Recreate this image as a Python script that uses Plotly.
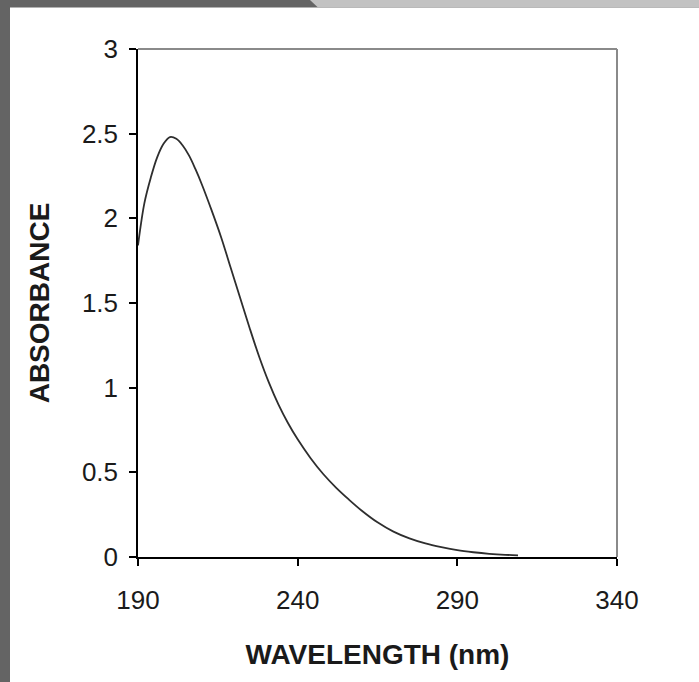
import plotly.graph_objects as go

wavelength = [190, 192, 194, 196, 198, 200, 202, 204, 206, 208, 210, 213, 216, 219,
              222, 225, 228, 231, 234, 237, 240, 244, 248, 252, 256, 260, 265, 270,
              275, 280, 285, 290, 295, 300, 305, 309]
absorbance = [1.84, 2.09, 2.24, 2.36, 2.44, 2.48, 2.47, 2.43, 2.37, 2.29, 2.20, 2.05,
              1.89, 1.71, 1.53, 1.35, 1.18, 1.03, 0.90, 0.79, 0.695, 0.585, 0.49, 0.41,
              0.34, 0.275, 0.205, 0.15, 0.11, 0.08, 0.058, 0.04, 0.028, 0.019, 0.013, 0.01]
x_ticks = [190, 240, 290, 340]
y_ticks = [0, 0.5, 1, 1.5, 2, 2.5, 3]

W, H = 699, 682
L, R, T, B = 138, 82, 49, 125
pw, ph = W - L - R, H - T - B

def px(x):
    return (x - L) / pw

def py(y):
    return (H - B - y) / ph

fig = go.Figure()
fig.add_trace(go.Scatter(x=wavelength, y=absorbance, mode="lines",
                         line=dict(color="#2e2e2e", width=1.8), line_shape="spline",
                         showlegend=False))

font_tick = dict(family="Liberation Sans, Arial, sans-serif", size=26, color="#1a1a1a")
font_title = dict(family="Liberation Sans, Arial, sans-serif", size=28, color="#1a1a1a")

fig.update_layout(
    width=W, height=H,
    margin=dict(l=L, r=R, t=T, b=B),
    paper_bgcolor="white", plot_bgcolor="white",
    xaxis=dict(range=[190, 340], tickvals=x_ticks, ticks="outside", ticklen=7,
               tickcolor="black", tickwidth=1.5, showline=True, linecolor="black",
               linewidth=1.5, showgrid=False, zeroline=False, tickfont=font_tick,
               ticklabelstandoff=12,
               title=dict(text="<b>WAVELENGTH (nm)</b>", font=font_title, standoff=30)),
    yaxis=dict(range=[0, 3], tickvals=y_ticks, ticks="outside", ticklen=7,
               tickcolor="black", tickwidth=1.5, showline=True, linecolor="black",
               linewidth=1.5, showgrid=False, zeroline=False, tickfont=font_tick,
               ticklabelstandoff=6,
               title=dict(text="<b>ABSORBANCE</b>", font=font_title, standoff=24)),
    shapes=[
        dict(type="line", xref="paper", yref="paper", x0=0, x1=1, y0=1, y1=1,
             line=dict(color="#8a8a8a", width=2)),
        dict(type="line", xref="paper", yref="paper", x0=1, x1=1, y0=0, y1=1,
             line=dict(color="#8a8a8a", width=2)),
        dict(type="rect", xref="paper", yref="paper", x0=px(0), x1=px(10), y0=py(H), y1=py(0),
             fillcolor="#646464", line=dict(width=0), layer="above"),
        dict(type="rect", xref="paper", yref="paper", x0=px(0), x1=px(W), y0=py(7.5), y1=py(0),
             fillcolor="#646464", line=dict(width=0), layer="above"),
        dict(type="path", xref="paper", yref="paper",
             path=f"M {px(310)} {py(0)} L {px(W)} {py(0)} L {px(W)} {py(7.5)} L {px(318)} {py(7.5)} Z",
             fillcolor="#c2c2c2", line=dict(width=0), layer="above"),
    ],
)

fig.write_html("out.html", config={"displayModeBar": False},
               post_script="document.body.style.margin='0';")
